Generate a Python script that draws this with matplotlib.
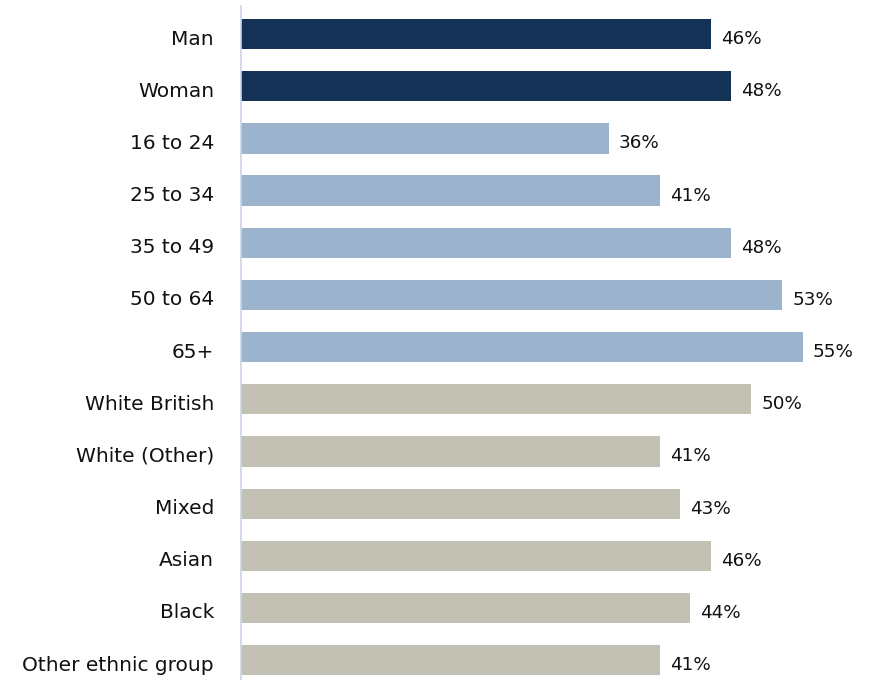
import matplotlib.pyplot as plt
import matplotlib.transforms as mtransforms

categories = ['Man', 'Woman', '16 to 24', '25 to 34', '35 to 49', '50 to 64', '65+',
              'White British', 'White (Other)', 'Mixed', 'Asian', 'Black', 'Other ethnic group']
values = [46, 48, 36, 41, 48, 53, 55, 50, 41, 43, 46, 44, 41]
groups = ['gender'] * 2 + ['age'] * 5 + ['ethnicity'] * 6

group_colors = {'gender': '#143255', 'age': '#9bb3cc', 'ethnicity': '#c3c1b4'}

fig = plt.figure(figsize=(8.74, 6.8), dpi=100)
ax = fig.add_axes([241 / 874, 0, 1 - 241 / 874, 674 / 680])

y = range(len(categories))
colors = [group_colors[g] for g in groups]
ax.barh(y, values, height=0.58, color=colors)

# labels sit a little below the bar centre in the original
shift = mtransforms.ScaledTranslation(0, -5 / 100, fig.dpi_scale_trans)
lab_shift = mtransforms.ScaledTranslation(-27 / 100, -5 / 100, fig.dpi_scale_trans)

for i, v in zip(y, values):
    ax.text(v + 1.0, i, f'{v}%', va='center', ha='left', fontsize=13.2,
            color='#111111', transform=ax.transData + shift)

for i, name in zip(y, categories):
    ax.text(0, i, name, va='center', ha='right', fontsize=14.5, color='#111111',
            transform=ax.get_yaxis_transform() + lab_shift, clip_on=False)

ax.set_xlim(0, 62)
ax.set_ylim(12.38, -0.537)
ax.set_yticks([])
ax.set_xticks([])
for s in ['top', 'right', 'bottom']:
    ax.spines[s].set_visible(False)
ax.spines['left'].set_color('#c8d4e8')
ax.spines['left'].set_linewidth(1.2)

fig.savefig('out.png', dpi=100)
